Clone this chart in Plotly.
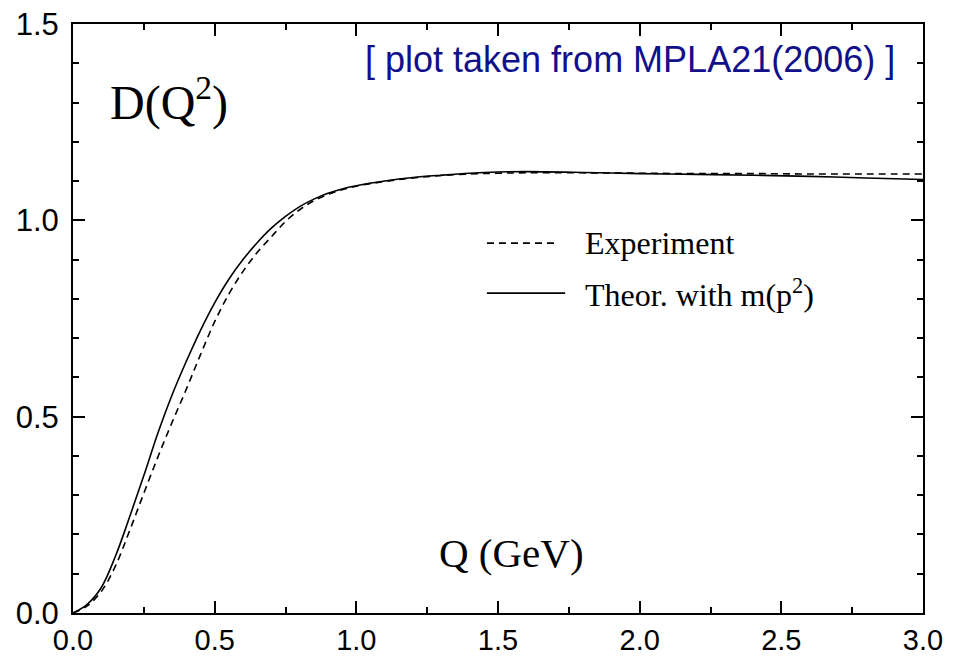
import plotly.graph_objects as go

# Q (GeV)
q = [0.0, 0.05, 0.1, 0.15, 0.2, 0.25, 0.3, 0.35, 0.4, 0.45, 0.5, 0.55, 0.6,
     0.65, 0.7, 0.75, 0.8, 0.85, 0.9, 0.95, 1.0, 1.1, 1.2, 1.3, 1.4, 1.5,
     1.6, 1.8, 2.0, 2.2, 2.4, 2.6, 2.8, 3.0]

# Experiment (dashed)
d_exp = [0.0, 0.018, 0.055, 0.12, 0.21, 0.305, 0.398, 0.486, 0.57, 0.658,
         0.742, 0.812, 0.870, 0.918, 0.958, 0.997, 1.027, 1.050, 1.066,
         1.078, 1.087, 1.099, 1.108, 1.114, 1.118, 1.120, 1.121, 1.121,
         1.120, 1.119, 1.119, 1.118, 1.118, 1.118]

# Theory with m(p^2) (solid)
d_theor = [0.0, 0.022, 0.065, 0.145, 0.245, 0.35, 0.459, 0.556, 0.641, 0.72,
           0.79, 0.85, 0.90, 0.943, 0.98, 1.010, 1.035, 1.054, 1.069,
           1.080, 1.088, 1.100, 1.109, 1.115, 1.120, 1.123, 1.124, 1.122,
           1.119, 1.117, 1.115, 1.112, 1.108, 1.104]

fig = go.Figure()
fig.add_trace(go.Scatter(x=q, y=d_exp, mode="lines", name="Experiment",
                         line=dict(color="black", width=1.6, dash="7px,5px", shape="spline"),
                         showlegend=False))
fig.add_trace(go.Scatter(x=q, y=d_theor, mode="lines", name="Theor. with m(p<sup>2</sup>)",
                         line=dict(color="black", width=1.6, shape="spline"),
                         showlegend=False))

sans = "Liberation Sans, Arial, sans-serif"
axis_common = dict(showgrid=False, zeroline=False, linecolor="black", linewidth=2,
                   mirror="ticks", ticks="inside", ticklen=12, tickwidth=2,
                   tickcolor="black", tickformat=".1f", automargin=False)

fig.update_xaxes(range=[0, 3], dtick=0.5, tick0=0,
                 tickfont=dict(family=sans, size=29, color="black"),
                 minor=dict(ticks="inside", ticklen=6, tickwidth=2, tickcolor="black",
                            dtick=0.25, tick0=0, showgrid=False),
                 **axis_common)
fig.update_yaxes(range=[0, 1.5], dtick=0.5, tick0=0, ticklabelstandoff=6,
                 tickfont=dict(family=sans, size=31, color="black"),
                 minor=dict(ticks="inside", ticklen=6, tickwidth=2, tickcolor="black",
                            dtick=0.1, tick0=0, showgrid=False),
                 **axis_common)

serif = "Liberation Serif, Times New Roman, serif"

# Legend drawn as in the original figure
fig.add_shape(type="line", xref="paper", yref="paper", x0=0.487, x1=0.569,
              y0=0.628, y1=0.628, line=dict(color="black", width=1.6, dash="7px,5px"))
fig.add_shape(type="line", xref="paper", yref="paper", x0=0.487, x1=0.579,
              y0=0.543, y1=0.543, line=dict(color="black", width=1.6))
fig.add_annotation(text="Experiment", xref="paper", yref="paper", x=0.600, y=0.628,
                   xanchor="left", yanchor="middle", showarrow=False,
                   font=dict(family=serif, size=32, color="black"))
fig.add_annotation(text="Theor. with m(p<sup>2</sup>)", xref="paper", yref="paper",
                   x=0.600, y=0.543, xanchor="left", yanchor="middle", showarrow=False,
                   font=dict(family=serif, size=32, color="black"))

fig.add_annotation(text="D(Q<sup>2</sup>)", xref="paper", yref="paper", x=0.041, y=0.871,
                   xanchor="left", yanchor="middle", showarrow=False,
                   font=dict(family=serif, size=48, color="black"))
fig.add_annotation(text="Q (GeV)", xref="paper", yref="paper", x=0.516, y=0.102,
                   xanchor="center", yanchor="middle", showarrow=False,
                   font=dict(family=serif, size=41, color="black"))
fig.add_annotation(text="[ plot taken from MPLA21(2006) ]", xref="paper", yref="paper",
                   x=0.969, y=0.939, xanchor="right", yanchor="middle", showarrow=False,
                   font=dict(family=sans, size=36, color="#10108a"))

fig.update_layout(width=953, height=656, margin=dict(l=73, r=30, t=24, b=43),
                  plot_bgcolor="white", paper_bgcolor="white")

fig.write_html("out.html")
